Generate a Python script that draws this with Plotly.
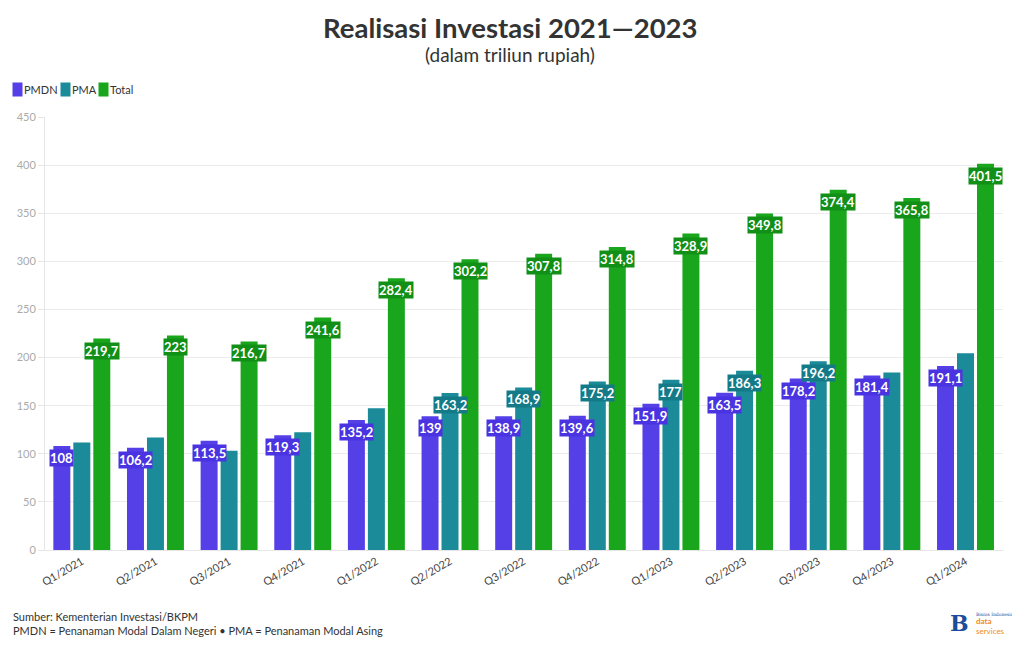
import plotly.graph_objects as go

categories = ["Q1/2021", "Q2/2021", "Q3/2021", "Q4/2021", "Q1/2022", "Q2/2022", "Q3/2022",
              "Q4/2022", "Q1/2023", "Q2/2023", "Q3/2023", "Q4/2023", "Q1/2024"]
pmdn = [108, 106.2, 113.5, 119.3, 135.2, 139, 138.9, 139.6, 151.9, 163.5, 178.2, 181.4, 191.1]
pma = [111.7, 116.8, 103.2, 122.3, 147.2, 163.2, 168.9, 175.2, 177, 186.3, 196.2, 184.4, 204.4]
total = [219.7, 223, 216.7, 241.6, 282.4, 302.2, 307.8, 314.8, 328.9, 349.8, 374.4, 365.8, 401.5]
# which PMA labels are visible in the reference (others hidden by label collision)
pma_label_shown = [False, False, False, False, False, True, True, True, True, True, True, False, False]

series_names = ["PMDN", "PMA", "Total"]
colors = ["#5540E8", "#1B8A99", "#19A51C"]
label_bg = ["#4a33e0", "#147a88", "#128f17"]

FONT = "Lato"

def fmt(v):
    s = ("%.1f" % v).rstrip("0").rstrip(".")
    return s.replace(".", ",")

fig = go.Figure()
for name, vals, col in zip(series_names, [pmdn, pma, total], colors):
    fig.add_trace(go.Bar(name=name, x=categories, y=vals, marker=dict(color=col, line=dict(width=0)),
                         hoverinfo="x+y+name"))

annotations = []
shifts = [-20, 0, 20]
for si, vals in enumerate([pmdn, pma, total]):
    for i, (c, v) in enumerate(zip(categories, vals)):
        if si == 1 and not pma_label_shown[i]:
            continue
        annotations.append(dict(
            x=c, y=v, xref="x", yref="y", text="<b>%s</b>" % fmt(v), showarrow=False,
            xshift=shifts[si], yanchor="top", yshift=-3,
            font=dict(family=FONT, size=13, color="white"),
            bgcolor=label_bg[si], borderpad=0,
        ))

# title / subtitle (centred on the page, not on the plot area)
annotations.append(dict(xref="paper", yref="paper", x=0.5, y=1, xanchor="center", yanchor="bottom",
                        xshift=-14, yshift=71, text="<b>Realisasi Investasi 2021\u20142023</b>",
                        showarrow=False, font=dict(family=FONT, size=27.5, color="#333333")))
annotations.append(dict(xref="paper", yref="paper", x=0.5, y=1, xanchor="center", yanchor="bottom",
                        xshift=-14, yshift=49, text="(dalam triliun rupiah)", showarrow=False,
                        font=dict(family=FONT, size=19, color="#333333")))

# compact legend (swatch + label), as in the reference
legend_x = [-33, 15, 53]
for name, col, lx in zip(series_names, colors, legend_x):
    annotations.append(dict(xref="paper", yref="paper", x=0, y=1, xanchor="left", yanchor="middle",
                            xshift=lx, yshift=28, text=" ", width=9, height=13, bgcolor=col,
                            borderpad=0, showarrow=False, font=dict(size=8)))
    annotations.append(dict(xref="paper", yref="paper", x=0, y=1, xanchor="left", yanchor="middle",
                            xshift=lx + 10, yshift=28, text=name, showarrow=False,
                            font=dict(family=FONT, size=11, color="#333333")))

# footer
annotations.append(dict(xref="paper", yref="paper", x=0, y=0, xanchor="left", yanchor="top",
                        xshift=-34, yshift=-58,
                        text="Sumber: Kementerian Investasi/BKPM<br>PMDN = Penanaman Modal Dalam Negeri \u2022 PMA = Penanaman Modal Asing",
                        align="left", showarrow=False,
                        font=dict(family=FONT, size=11, color="#333333")))
# logo text
annotations.append(dict(xref="paper", yref="paper", x=1, y=0, xanchor="right", yanchor="top",
                        xshift=-32, yshift=-58, text="<b>B</b>", showarrow=False,
                        font=dict(family="DejaVu Serif", size=22, color="#1a4d9c")))
annotations.append(dict(xref="paper", yref="paper", x=1, y=0, xanchor="left", yanchor="top",
                        xshift=-29, yshift=-60, text="Bisnis Indonesia", showarrow=False,
                        font=dict(family="DejaVu Serif", size=4.5, color="#1a4d9c")))
annotations.append(dict(xref="paper", yref="paper", x=1, y=0, xanchor="left", yanchor="top",
                        xshift=-29, yshift=-64, text="<b>data</b><br>services", showarrow=False,
                        align="left", font=dict(family=FONT, size=8, color="#f08a24")))

# the page body adds an 8px offset, so margins are compensated to place the plot area
fig.update_layout(
    width=1020, height=650,
    margin=dict(l=37, r=25, t=109, b=108, autoexpand=False),
    paper_bgcolor="white", plot_bgcolor="white",
    barmode="group", bargap=0.186, bargroupgap=0.15,
    font=dict(family=FONT, color="#333333"),
    showlegend=False,
    annotations=annotations,
    xaxis=dict(type="category", tickangle=-30, tickfont=dict(family=FONT, size=11, color="#444444"),
               showgrid=False, showline=True, linecolor="#e6e6e6", ticks="", fixedrange=True,
               automargin=False),
    yaxis=dict(range=[0, 450], dtick=50, tickfont=dict(family=FONT, size=11, color="#aaaaaa"),
               gridcolor="#ececec", showline=True, linecolor="#e6e6e6", ticks="outside",
               ticklen=6, tickcolor="#e6e6e6", zeroline=False, fixedrange=True, automargin=False),
)

fig.write_html("out.html")
